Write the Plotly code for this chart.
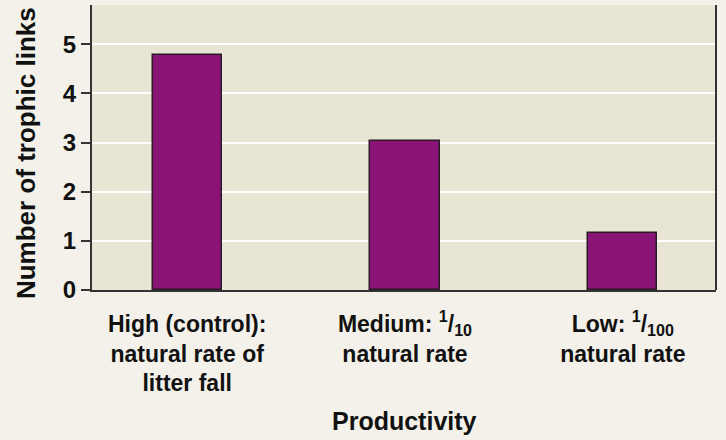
import plotly.graph_objects as go

# Trophic links measured under three litter-fall productivity treatments
categories = [
    "High (control):<br>natural rate of<br>litter fall",
    "Medium: <sup>1</sup>/<sub>10</sub><br>natural rate",
    "Low: <sup>1</sup>/<sub>100</sub><br>natural rate",
]
trophic_links = [4.78, 3.03, 1.16]
y_ticks = [0, 1, 2, 3, 4, 5]

paper_bg = "#f3f1ea"
plot_bg = "#e8e5d5"
bar_color = "#8a1476"
ink = "#111111"
font_family = "Liberation Sans, Arial, Helvetica, sans-serif"

x_pos = list(range(len(categories)))

fig = go.Figure(
    go.Bar(
        x=x_pos,
        y=trophic_links,
        width=0.318,
        marker=dict(color=bar_color, line=dict(color="#2a1a26", width=1.5)),
    )
)

fig.update_layout(
    width=726,
    height=440,
    margin=dict(l=92, r=10, t=5, b=150),
    paper_bgcolor=paper_bg,
    plot_bgcolor=plot_bg,
    showlegend=False,
    font=dict(family=font_family, color=ink),
    bargap=0,
)

fig.update_xaxes(
    range=[-0.437, 2.428],
    tickvals=x_pos,
    ticktext=categories,
    tickfont=dict(size=23, family=font_family, color=ink, weight="bold"),
    ticklabelstandoff=12,
    showgrid=False,
    showline=True,
    linecolor="#333333",
    linewidth=2,
    ticks="",
    zeroline=False,
)

fig.update_yaxes(
    range=[0, 5.8],
    tickvals=y_ticks,
    tickfont=dict(size=24, family=font_family, color=ink, weight="bold"),
    showgrid=True,
    gridcolor="#ffffff",
    gridwidth=2,
    showline=True,
    linecolor="#333333",
    linewidth=2,
    ticks="outside",
    ticklen=9,
    tickwidth=2,
    tickcolor="#333333",
    zeroline=False,
)

# Right-hand frame edge of the plotting area
fig.add_shape(
    type="line", xref="paper", yref="paper",
    x0=1, x1=1, y0=0, y1=1,
    line=dict(color="#333333", width=2),
)

# Axis titles
fig.add_annotation(
    text="Number of trophic links",
    xref="paper", yref="paper",
    x=-0.106, y=0.48,
    xanchor="center", yanchor="middle",
    textangle=-90,
    showarrow=False,
    font=dict(size=26, family=font_family, color=ink, weight="bold"),
)

fig.add_annotation(
    text="Productivity",
    xref="paper", yref="paper",
    x=0.5, y=-0.46,
    xanchor="center", yanchor="middle",
    showarrow=False,
    font=dict(size=25, family=font_family, color=ink, weight="bold"),
)

fig.write_html("out.html")
